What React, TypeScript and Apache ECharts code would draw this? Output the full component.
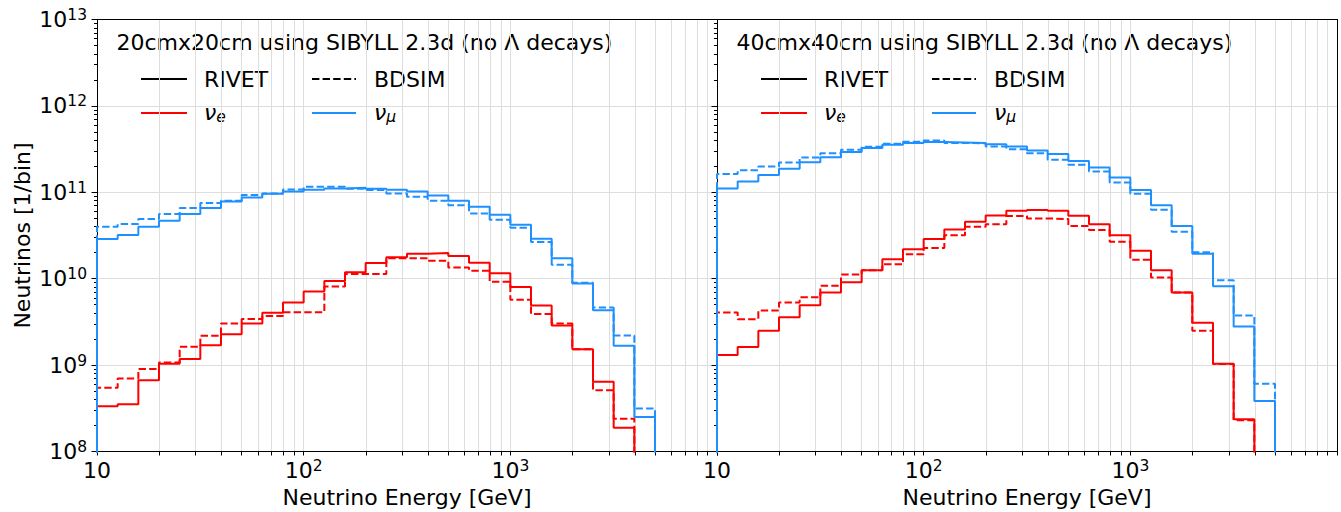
import React, { useEffect, useRef } from 'react';
import * as echarts from 'echarts';

// ---------- data ----------
const binEdges = [10, 12.59, 15.85, 19.95, 25.12, 31.62, 39.81, 50.12, 63.1, 79.43, 100, 125.9, 158.5, 199.5, 251.2, 316.2, 398.1, 501.2, 631, 794.3, 1000, 1259, 1585, 1995, 2512, 3162, 3981, 5012];

// 20cm x 20cm
const nuMuRivet20 = [2.88e10, 3.2e10, 4.0e10, 4.7e10, 5.6e10, 6.6e10, 7.8e10, 8.7e10, 9.6e10, 1.02e11, 1.07e11, 1.11e11, 1.13e11, 1.10e11, 1.07e11, 1.02e11, 9.2e10, 8.0e10, 6.8e10, 5.5e10, 4.2e10, 2.9e10, 1.73e10, 8.8e9, 4.3e9, 1.67e9, 2.5e8];
const nuMuBdsim20 = [4.0e10, 4.3e10, 4.9e10, 5.6e10, 6.6e10, 7.5e10, 8.0e10, 9.3e10, 9.7e10, 1.08e11, 1.16e11, 1.16e11, 1.10e11, 1.06e11, 9.7e10, 8.9e10, 8.0e10, 7.1e10, 5.7e10, 4.8e10, 3.9e10, 2.66e10, 1.45e10, 9.0e9, 4.65e9, 2.2e9, 3.15e8];
const nuERivet20 = [3.35e8, 3.53e8, 6.7e8, 1.04e9, 1.18e9, 1.7e9, 2.27e9, 3.04e9, 4.04e9, 5.3e9, 7.1e9, 9.4e9, 1.19e10, 1.52e10, 1.77e10, 1.95e10, 1.98e10, 1.83e10, 1.53e10, 1.16e10, 8.0e9, 4.9e9, 2.88e9, 1.53e9, 6.4e8, 1.88e8, 0];
const nuEBdsim20 = [5.46e8, 7.0e8, 9.0e8, 1.07e9, 1.63e9, 2.19e9, 3.04e9, 3.41e9, 3.7e9, 4.1e9, 4.1e9, 8.1e9, 1.13e10, 1.13e10, 1.72e10, 1.72e10, 1.61e10, 1.35e10, 1.24e10, 9.2e9, 5.7e9, 3.9e9, 3.04e9, 1.53e9, 5.1e8, 2.39e8, 0];

// 40cm x 40cm
const nuMuRivet40 = [1.11e11, 1.33e11, 1.59e11, 1.87e11, 2.23e11, 2.55e11, 2.92e11, 3.25e11, 3.55e11, 3.71e11, 3.81e11, 3.78e11, 3.73e11, 3.61e11, 3.4e11, 3.05e11, 2.77e11, 2.31e11, 1.94e11, 1.48e11, 1.06e11, 7.1e10, 4.07e10, 1.95e10, 8.2e9, 2.8e9, 3.85e8];
const nuMuBdsim40 = [1.63e11, 1.80e11, 1.99e11, 2.21e11, 2.53e11, 2.84e11, 3.1e11, 3.37e11, 3.65e11, 3.85e11, 3.99e11, 3.72e11, 3.7e11, 3.4e11, 3.16e11, 2.84e11, 2.38e11, 2.08e11, 1.74e11, 1.30e11, 9.6e10, 6.3e10, 3.49e10, 2.02e10, 9.6e9, 3.75e9, 6.1e8];
const nuERivet40 = [1.31e9, 1.62e9, 2.5e9, 3.58e9, 4.94e9, 6.9e9, 9.1e9, 1.25e10, 1.68e10, 2.19e10, 2.89e10, 3.71e10, 4.56e10, 5.4e10, 6.1e10, 6.24e10, 6.1e10, 5.35e10, 4.28e10, 3.19e10, 2.10e10, 1.25e10, 6.9e9, 3.1e9, 1.04e9, 2.36e8, 0];
const nuEBdsim40 = [4.07e9, 3.4e9, 4.28e9, 5.3e9, 6.1e9, 8.3e9, 1.12e10, 1.25e10, 1.47e10, 1.92e10, 2.27e10, 3.19e10, 3.99e10, 4.28e10, 5.3e10, 4.99e10, 4.9e10, 4.07e10, 3.65e10, 2.67e10, 1.66e10, 1.03e10, 6.9e9, 2.5e9, 1.03e9, 2.3e8, 0];

const panelTitles = ['20cmx20cm using SIBYLL 2.3d (no \u039B decays)', '40cmx40cm using SIBYLL 2.3d (no \u039B decays)'];
const panelData = [
  { nuERivet: nuERivet20, nuEBdsim: nuEBdsim20, nuMuRivet: nuMuRivet20, nuMuBdsim: nuMuBdsim20 },
  { nuERivet: nuERivet40, nuEBdsim: nuEBdsim40, nuMuRivet: nuMuRivet40, nuMuBdsim: nuMuBdsim40 },
];

// ticks
const xLabelTicks = [10, 100, 1000];
const xAllTicks = [10, 20, 30, 40, 50, 60, 70, 80, 90, 100, 200, 300, 400, 500, 600, 700, 800, 900, 1000, 2000, 3000, 4000, 5000, 6000, 7000, 8000, 9000, 10000];
const xGridTicks = [20, 30, 40, 50, 60, 70, 80, 90, 100, 200, 300, 400, 500, 600, 700, 800, 900, 1000, 2000, 3000, 4000, 5000, 6000, 7000, 8000, 9000];
const yMajorTicks = [1e8, 1e9, 1e10, 1e11, 1e12, 1e13];
const yGridTicks = [1e9, 1e10, 1e11, 1e12];
const yMinorTicks: number[] = [];
[1e8, 1e9, 1e10, 1e11, 1e12].forEach((d) => {
  [2, 3, 4, 5, 6, 7, 8, 9].forEach((m) => yMinorTicks.push(m * d));
});

const RED = '#ff0000';
const BLUE = '#1e90ff';
const FONT = 'DejaVu Sans';
const FS = 22;
const FLOOR = 1e6;
const DASH = [7.4, 3.2];

function stepPoints(vals: number[]) {
  const pts: number[][] = [[binEdges[0], FLOOR]];
  vals.forEach((v, i) => {
    const y = v > 0 ? v : FLOOR;
    pts.push([binEdges[i], y], [binEdges[i + 1], y]);
  });
  pts.push([binEdges[vals.length], FLOOR]);
  return pts;
}

const powFmt = (v: number) => {
  const e = Math.round(Math.log10(v));
  return e === 1 ? '{b|10}' : `{b|10}{s|${e}}`;
};
const powRich = {
  b: { fontSize: FS, lineHeight: 25, fontFamily: FONT, color: '#000', verticalAlign: 'middle' },
  s: { fontSize: 15.5, lineHeight: 15, fontFamily: FONT, color: '#000', verticalAlign: 'top' },
};

const GRID_LEFT = [97, 717];
const GRID_W = 620;
const GRID_TOP = 19.5;
const GRID_H = 432;

export default function App() {
  const ref = useRef<HTMLDivElement>(null);
  useEffect(() => {
    if (!ref.current) return;
    const chart = echarts.init(ref.current, undefined, { renderer: 'svg' });

    const grids: any[] = [];
    const xAxes: any[] = [];
    const yAxes: any[] = [];
    const series: any[] = [];
    const graphics: any[] = [];
    const black = { color: '#000', width: 1 };

    [0, 1].forEach((p) => {
      grids.push({ left: GRID_LEFT[p], top: GRID_TOP, width: GRID_W, height: GRID_H, containLabel: false, outerBoundsMode: 'none' });
      const xb = { type: 'log', logBase: 10, min: 10, max: 10000, gridIndex: p };
      const yb = { type: 'log', logBase: 10, min: 1e8, max: 1e13, gridIndex: p };
      xAxes.push({ ...xb, position: 'bottom', z: 0, axisLine: { show: false }, axisTick: { show: false, customValues: xGridTicks }, axisLabel: { show: false }, splitLine: { show: true, lineStyle: { color: '#dedede', width: 1 } } });
      xAxes.push({
        ...xb, position: 'bottom', z: 1,
        axisLine: { show: true, onZero: false, lineStyle: black },
        axisTick: { show: true, inside: false, length: 4, customValues: xAllTicks, lineStyle: black },
        axisLabel: { show: true, customValues: xLabelTicks, formatter: powFmt, rich: powRich, margin: 6 },
        splitLine: { show: false },
        name: 'Neutrino Energy [GeV]', nameLocation: 'middle', nameGap: 35,
        nameTextStyle: { fontSize: FS, fontFamily: FONT, color: '#000' },
      });
      xAxes.push({ ...xb, position: 'top', z: 1, axisLine: { show: true, onZero: false, lineStyle: black }, axisTick: { show: false }, axisLabel: { show: false }, splitLine: { show: false } });

      yAxes.push({ ...yb, position: 'left', z: 0, axisLine: { show: false }, axisTick: { show: false, customValues: yGridTicks }, axisLabel: { show: false }, splitLine: { show: true, lineStyle: { color: '#dedede', width: 1 } } });
      yAxes.push({
        ...yb, position: 'left', z: 1,
        axisLine: { show: true, onZero: false, lineStyle: black },
        axisTick: { show: true, inside: false, length: 5.5, customValues: yMajorTicks, lineStyle: black },
        axisLabel: { show: p === 0, customValues: yMajorTicks, formatter: powFmt, rich: powRich, margin: 10 },
        splitLine: { show: false },
        name: p === 0 ? 'Neutrinos [1/bin]' : '', nameLocation: 'middle', nameGap: 64,
        nameTextStyle: { fontSize: FS, fontFamily: FONT, color: '#000' },
      });
      yAxes.push({ ...yb, position: 'left', z: 1, axisLine: { show: false }, axisTick: { show: true, inside: false, length: 3, customValues: yMinorTicks, lineStyle: black }, axisLabel: { show: false }, splitLine: { show: false } });
      yAxes.push({ ...yb, position: 'right', z: 1, axisLine: { show: true, onZero: false, lineStyle: black }, axisTick: { show: false }, axisLabel: { show: false }, splitLine: { show: false } });

      const d = panelData[p];
      const mk = (name: string, vals: number[], color: string, dashed: boolean) => ({
        type: 'line', name, xAxisIndex: p * 3 + 1, yAxisIndex: p * 4 + 1,
        data: stepPoints(vals), showSymbol: false, symbol: 'none', clip: true, silent: true,
        lineStyle: { color, width: 2, type: dashed ? DASH : 'solid' }, z: 3,
      });
      series.push(mk('nuE RIVET', d.nuERivet, RED, false));
      series.push(mk('nuE BDSIM', d.nuEBdsim, RED, true));
      series.push(mk('nuMu RIVET', d.nuMuRivet, BLUE, false));
      series.push(mk('nuMu BDSIM', d.nuMuBdsim, BLUE, true));

      const dx = GRID_LEFT[p] - GRID_LEFT[0];
      const txt = (x: number, y: number, text: string) => ({ type: 'text', x, y, style: { text, fontSize: FS, fontFamily: FONT, fill: '#000', verticalAlign: 'middle', align: 'left' } });
      graphics.push(txt(116.5 + dx, 42, panelTitles[p]));
      graphics.push({ type: 'line', shape: { x1: 141 + dx, y1: 79, x2: 187 + dx, y2: 79 }, style: { stroke: '#000', lineWidth: 2 } });
      graphics.push(txt(204 + dx, 79, 'RIVET'));
      graphics.push({ type: 'line', shape: { x1: 312 + dx, y1: 79, x2: 356 + dx, y2: 79 }, style: { stroke: '#000', lineWidth: 2, lineDash: DASH } });
      graphics.push(txt(374 + dx, 79, 'BDSIM'));
      graphics.push({ type: 'line', shape: { x1: 141 + dx, y1: 113, x2: 187 + dx, y2: 113 }, style: { stroke: RED, lineWidth: 2 } });
      graphics.push({ type: 'line', shape: { x1: 312 + dx, y1: 113, x2: 356 + dx, y2: 113 }, style: { stroke: BLUE, lineWidth: 2 } });
      const nuRich = {
        n: { fontSize: FS, lineHeight: 25, fontFamily: FONT, fontStyle: 'italic', fill: '#000', verticalAlign: 'middle' },
        u: { fontSize: 15.5, lineHeight: 15, fontFamily: FONT, fontStyle: 'italic', fill: '#000', verticalAlign: 'bottom' },
      };
      graphics.push({ type: 'text', x: 204 + dx, y: 112, style: { text: '{n|\u03BD}{u|e}', rich: nuRich, verticalAlign: 'middle', align: 'left' } });
      graphics.push({ type: 'text', x: 374 + dx, y: 112, style: { text: '{n|\u03BD}{u|\u03BC}', rich: nuRich, verticalAlign: 'middle', align: 'left' } });
    });

    chart.setOption({
      animation: false,
      backgroundColor: '#ffffff',
      textStyle: { fontFamily: FONT },
      grid: grids,
      xAxis: xAxes,
      yAxis: yAxes,
      series,
      graphic: { elements: graphics },
    });
    return () => chart.dispose();
  }, []);
  return <div ref={ref} style={{ position: 'absolute', left: 0, top: 0, width: 1341, height: 512 }} />;
}
